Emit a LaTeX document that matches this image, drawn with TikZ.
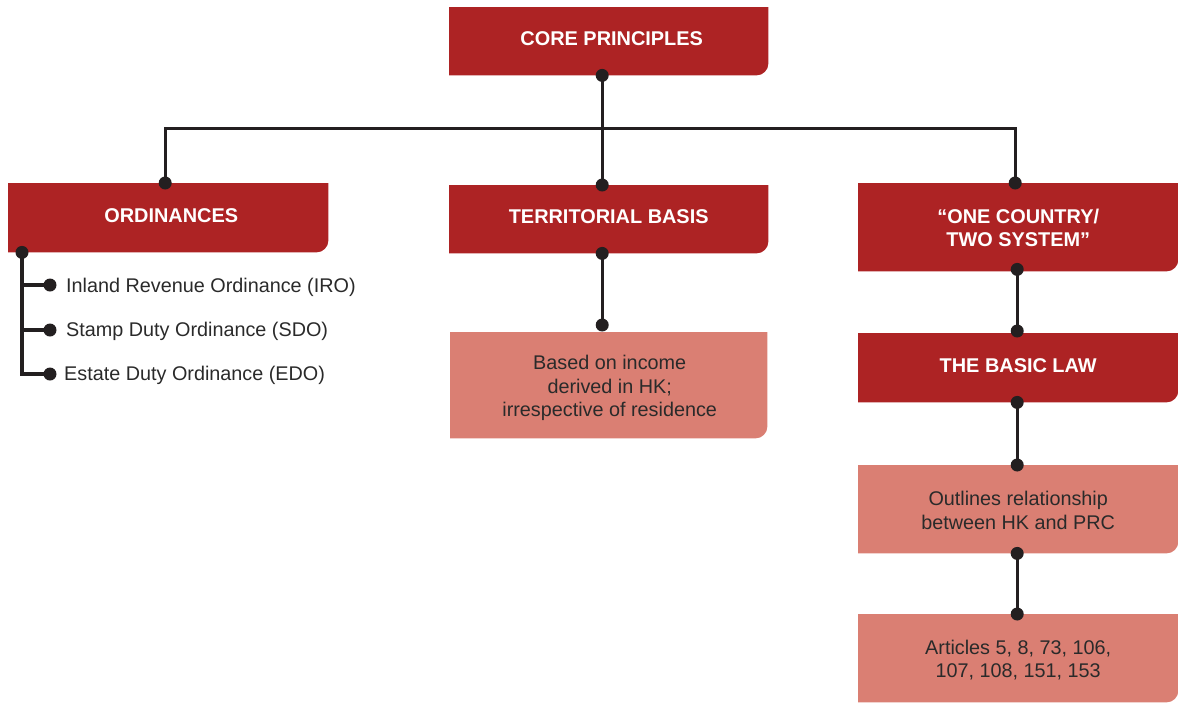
\documentclass[tikz,border=0pt]{standalone}
\usepackage{fontspec}
\setmainfont{Liberation Sans}
\usetikzlibrary{backgrounds}

\definecolor{boxdark}{HTML}{AD2324}
\definecolor{boxlight}{HTML}{DA7F73}
\definecolor{ink}{HTML}{231F20}
\definecolor{bodytext}{HTML}{2A2A2A}

\tikzset{
  frame/.style={anchor=north west, inner sep=0pt},
  headtext/.style={inner sep=0pt, align=center, text=white,
    font=\fontsize{19.9}{23}\selectfont\bfseries},
  notetext/.style={inner sep=0pt, align=center, text=bodytext,
    font=\fontsize{19.8}{23.5}\selectfont},
  listitem/.style={anchor=west, inner sep=0pt, text=bodytext,
    font=\fontsize{19.8}{23}\selectfont},
  link/.style={draw=ink, line width=3.3pt},
  dot/.style={fill=ink},
}

% filled box with a rounded lower right corner, built from a node's anchors
\newcommand{\cardbg}[2]{%
  \fill[#2] (#1.north west) -- (#1.north east)
    -- ([yshift=12pt]#1.south east) arc[start angle=0, end angle=-90, radius=12pt]
    -- (#1.south west) -- cycle;}

\newcommand{\joint}[1]{\fill[dot] #1 circle[radius=6.5pt];}

\begin{document}
\begin{tikzpicture}[x=1pt, y=1pt]
\useasboundingbox (0,0) rectangle (1178,-702);

% box frames
\node[frame, minimum width=319pt, minimum height=68pt]  (core)  at (449,-7) {};
\node[frame, minimum width=320pt, minimum height=69pt]  (ord)   at (8,-183) {};
\node[frame, minimum width=319pt, minimum height=68pt]  (terr)  at (449,-185) {};
\node[frame, minimum width=320pt, minimum height=88pt]  (ocs)   at (858,-183) {};
\node[frame, minimum width=320pt, minimum height=69pt]  (basic) at (858,-333) {};
\node[frame, minimum width=317pt, minimum height=106pt] (based) at (450,-332) {};
\node[frame, minimum width=320pt, minimum height=88pt]  (outl)  at (858,-465) {};
\node[frame, minimum width=320pt, minimum height=88pt]  (art)   at (858,-614) {};

% box texts
\node[headtext] (core-t)  at ([xshift=3pt,yshift=3pt]core.center) {CORE PRINCIPLES};
\node[headtext] (ord-t)   at ([xshift=3pt,yshift=2.5pt]ord.center) {ORDINANCES};
\node[headtext] (terr-t)  at ([yshift=3pt]terr.center) {TERRITORIAL BASIS};
\node[headtext] (ocs-t)   at ([yshift=-1pt]ocs.center) {“ONE COUNTRY/\\TWO SYSTEM”};
\node[headtext] (basic-t) at ([yshift=2pt]basic.center) {THE BASIC LAW};
\node[notetext] (based-t) at ([xshift=1pt,yshift=-3pt]based.center) {Based on income\\derived in HK;\\irrespective of residence};
\node[notetext] (outl-t)  at ([yshift=-1pt]outl.center) {Outlines relationship\\between HK and PRC};
\node[notetext] (art-t)   at ([yshift=-2pt]art.center) {Articles 5, 8, 73, 106,\\107, 108, 151, 153};

% ordinance list
\node[listitem] (iro) at (66,-287) {Inland Revenue Ordinance (IRO)};
\node[listitem] (sdo) at (66,-331) {Stamp Duty Ordinance (SDO)};
\node[listitem] (edo) at (64,-375) {Estate Duty Ordinance (EDO)};

\begin{scope}[on background layer]
  \cardbg{core}{boxdark}
  \cardbg{ord}{boxdark}
  \cardbg{terr}{boxdark}
  \cardbg{ocs}{boxdark}
  \cardbg{basic}{boxdark}
  \cardbg{based}{boxlight}
  \cardbg{outl}{boxlight}
  \cardbg{art}{boxlight}
\end{scope}

% main tree
\draw[link] ([xshift=-6.5pt]core.south) -- ([xshift=-6.5pt]terr.north);
\draw[link] ([xshift=-3pt]ord.north) |- ([yshift=-53pt]core.south) -| ([xshift=-3pt]ocs.north);
\draw[link] ([xshift=-6.5pt]terr.south) -- ([xshift=-6.5pt,yshift=7pt]based.north);
\draw[link] ([xshift=-1pt]ocs.south) -- ([xshift=-1pt,yshift=2pt]basic.north);
\draw[link] ([xshift=-1pt]basic.south) -- ([xshift=-1pt]outl.north);
\draw[link] ([xshift=-1pt]outl.south) -- ([xshift=-1pt]art.north);

\joint{([xshift=-6.5pt]core.south)}
\joint{([xshift=-6.5pt]terr.north)}
\joint{([xshift=-3pt]ord.north)}
\joint{([xshift=-3pt]ocs.north)}
\joint{([xshift=-6.5pt]terr.south)}
\joint{([xshift=-6.5pt,yshift=7pt]based.north)}
\joint{([xshift=-1pt,yshift=2pt]ocs.south)}
\joint{([xshift=-1pt,yshift=2pt]basic.north)}
\joint{([xshift=-1pt]basic.south)}
\joint{([xshift=-1pt]outl.north)}
\joint{([xshift=-1pt]outl.south)}
\joint{([xshift=-1pt]art.north)}

% ordinance branches
\coordinate (trunk) at ([xshift=14pt]ord.south west);
\coordinate (iro-j) at ([xshift=-16pt,yshift=2pt]iro.west);
\coordinate (sdo-j) at ([xshift=-16pt,yshift=1pt]sdo.west);
\coordinate (edo-j) at ([xshift=-14pt,yshift=1pt]edo.west);
\draw[link] (trunk) |- (edo-j);
\draw[link] (trunk |- iro-j) -- (iro-j);
\draw[link] (trunk |- sdo-j) -- (sdo-j);
\joint{(trunk)}
\joint{(iro-j)}
\joint{(sdo-j)}
\joint{(edo-j)}
\end{tikzpicture}
\end{document}
